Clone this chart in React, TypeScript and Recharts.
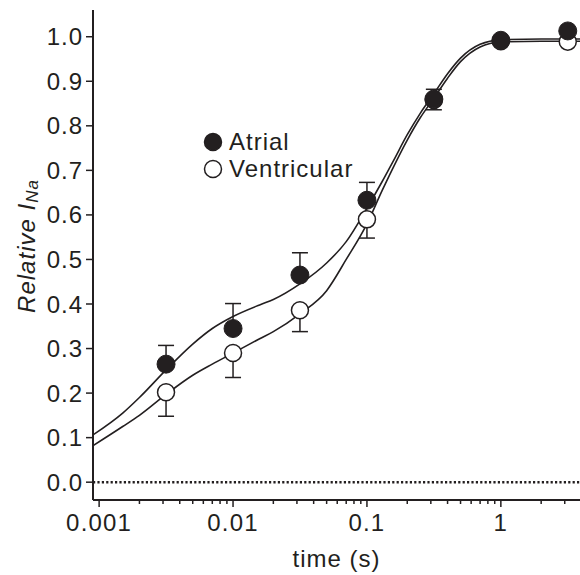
import { ComposedChart, Line, Scatter, XAxis, YAxis, ErrorBar, ReferenceLine, Legend } from "recharts";

// measured time points (s)
const timePoints = [0.00316, 0.01, 0.0316, 0.1, 0.316, 1, 3.16];
const atrialMean = [0.265, 0.345, 0.465, 0.633, 0.86, 0.992, 1.013];
const atrialSem = [0.042, 0.056, 0.05, 0.04, 0.022, 0.005, 0.004];
const ventricularMean = [0.202, 0.29, 0.386, 0.59, 0.858, 0.99, 0.989];
const ventricularSem = [0.054, 0.055, 0.048, 0.042, 0.022, 0.005, 0.004];

// fitted curves
const fitTime = [0.0009, 0.0015, 0.002, 0.00316, 0.005, 0.007, 0.01, 0.0158, 0.02, 0.0316, 0.05, 0.07, 0.1, 0.13, 0.158, 0.2, 0.25, 0.316, 0.4, 0.5, 0.7, 1, 2, 3.9];
const atrialFit = [0.106, 0.155, 0.19, 0.252, 0.31, 0.345, 0.372, 0.398, 0.41, 0.445, 0.492, 0.54, 0.615, 0.675, 0.722, 0.78, 0.828, 0.872, 0.917, 0.952, 0.983, 0.993, 0.995, 0.995];
const ventricularFit = [0.082, 0.125, 0.15, 0.197, 0.24, 0.265, 0.29, 0.322, 0.338, 0.378, 0.43, 0.5, 0.58, 0.655, 0.708, 0.768, 0.818, 0.862, 0.907, 0.944, 0.977, 0.988, 0.99, 0.99];

const decades = [0.001, 0.01, 0.1, 1];
const minorSteps = [2, 3, 4, 5, 6, 7, 8, 9];
const xMax = 3.9;
const yTicks = [0, 0.1, 0.2, 0.3, 0.4, 0.5, 0.6, 0.7, 0.8, 0.9, 1.0];

const FONT = '"Liberation Sans", Arial, sans-serif';
const INK = "#231f20";

const xTicks: number[] = [];
decades.forEach((d) => {
  xTicks.push(d);
  minorSteps.forEach((m) => {
    if (d * m <= xMax) xTicks.push(d * m);
  });
});

const atrialPts = timePoints.map((x, i) => ({ x, y: atrialMean[i], err: [0, atrialSem[i]] }));
const ventricularPts = timePoints.map((x, i) => ({ x, y: ventricularMean[i], err: [ventricularSem[i], 0] }));
const atrialCurve = fitTime.map((x, i) => ({ x, y: atrialFit[i] }));
const ventricularCurve = fitTime.map((x, i) => ({ x, y: ventricularFit[i] }));

const isMajor = (v: number) => Math.abs(Math.log10(v) - Math.round(Math.log10(v))) < 1e-6;

function XTick(props: any) {
  const { x, y, payload } = props;
  const major = isMajor(payload.value);
  return (
    <g>
      <line x1={x} x2={x} y1={y} y2={y + (major ? 7 : 4)} stroke={INK} strokeWidth={1.5} />
      {major && (
        <text x={x} y={y + 31} textAnchor="middle" fill={INK} fontSize={24} fontFamily={FONT} letterSpacing={1.2}>
          {String(payload.value)}
        </text>
      )}
    </g>
  );
}

function YLabel(props: any) {
  const { viewBox } = props;
  const cx = viewBox.x + 13;
  const cy = viewBox.y + viewBox.height / 2 - 9;
  return (
    <text
      x={cx}
      y={cy}
      transform={`rotate(-90, ${cx}, ${cy})`}
      textAnchor="middle"
      dominantBaseline="central"
      fill={INK}
      fontSize={24}
      fontStyle="italic"
      fontFamily={FONT}
      letterSpacing={1}
    >
      Relative I
      <tspan fontSize={17} dy={6}>Na</tspan>
    </text>
  );
}

function XLabel(props: any) {
  const { viewBox } = props;
  return (
    <text x={viewBox.x + viewBox.width / 2} y={viewBox.y + 67} textAnchor="middle" fill={INK} fontSize={24} fontFamily={FONT} letterSpacing={1}>
      time (s)
    </text>
  );
}

const FilledDot = (p: any) => <circle cx={p.cx} cy={p.cy} r={9} fill={INK} stroke={INK} strokeWidth={1} />;
const OpenDot = (p: any) => <circle cx={p.cx} cy={p.cy} r={8.5} fill="#fff" stroke={INK} strokeWidth={1.5} />;

function LegendBox() {
  const rows = [
    { name: "Atrial", fill: INK },
    { name: "Ventricular", fill: "#fff" },
  ];
  return (
    <div style={{ fontFamily: FONT, fontSize: 24, color: INK, letterSpacing: 1 }}>
      {rows.map((r) => (
        <div key={r.name} style={{ display: "flex", alignItems: "center", height: 27 }}>
          <svg width={20} height={20}>
            <circle cx={10} cy={10} r={8.5} fill={r.fill} stroke={INK} strokeWidth={1.5} />
          </svg>
          <span style={{ marginLeft: 6, lineHeight: "27px" }}>{r.name}</span>
        </div>
      ))}
    </div>
  );
}

export default function App() {
  return (
    <div style={{ position: "absolute", left: 0, top: 0 }}>
      <ComposedChart width={580} height={575} margin={{ top: 10, right: 0, left: 13, bottom: 0 }}>
        <XAxis
          dataKey="x"
          type="number"
          scale="log"
          domain={[0.0009, xMax]}
          allowDataOverflow
          ticks={xTicks}
          interval={0}
          height={75}
          tickSize={0}
          tickMargin={0}
          tickLine={false}
          tick={<XTick />}
          axisLine={{ stroke: INK, strokeWidth: 2 }}
          label={<XLabel />}
        />
        <YAxis
          dataKey="y"
          type="number"
          domain={[-0.04, 1.06]}
          allowDataOverflow
          ticks={yTicks}
          interval={0}
          width={80}
          tickSize={7}
          tickMargin={3}
          tickLine={{ stroke: INK, strokeWidth: 1.5 }}
          axisLine={{ stroke: INK, strokeWidth: 2 }}
          tick={{ fill: INK, fontSize: 24, fontFamily: FONT, letterSpacing: 1 }}
          tickFormatter={(v: number) => v.toFixed(1)}
          label={<YLabel />}
        />
        <ReferenceLine y={0} stroke={INK} strokeWidth={2.6} strokeDasharray="2.2 2.2" />
        <Line data={atrialCurve} dataKey="y" type="monotone" stroke={INK} strokeWidth={1.6} dot={false} isAnimationActive={false} legendType="none" />
        <Line data={ventricularCurve} dataKey="y" type="monotone" stroke={INK} strokeWidth={1.6} dot={false} isAnimationActive={false} legendType="none" />
        <Scatter data={ventricularPts} dataKey="y" name="Ventricular" shape={<OpenDot />} isAnimationActive={false}>
          <ErrorBar dataKey="err" direction="y" width={8} stroke={INK} strokeWidth={1.5} />
        </Scatter>
        <Scatter data={atrialPts} dataKey="y" name="Atrial" shape={<FilledDot />} isAnimationActive={false}>
          <ErrorBar dataKey="err" direction="y" width={8} stroke={INK} strokeWidth={1.5} />
        </Scatter>
        <Legend
          layout="vertical"
          align="center"
          verticalAlign="middle"
          content={<LegendBox />}
          wrapperStyle={{ left: 203, top: 128, width: 200, height: 60 }}
        />
      </ComposedChart>
    </div>
  );
}
